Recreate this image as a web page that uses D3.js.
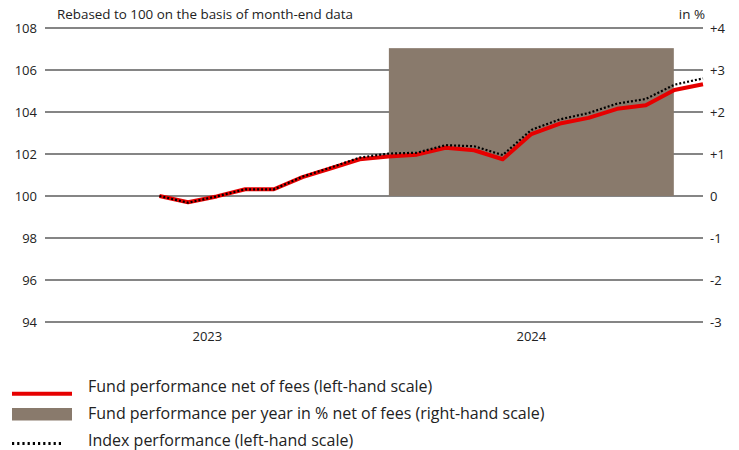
<!DOCTYPE html>
<html>
<head>
<meta charset="utf-8">
<script src="https://cdn.jsdelivr.net/npm/d3@7"></script>
<style>
  body { margin: 0; background: #fff; }
  svg text { font-family: "Open Sans", sans-serif; fill: #222; }
</style>
</head>
<body>
<div id="chart"></div>
<script>
// month-end points, May 2023 .. Dec 2024 (index 0..19)
const monthIdx = d3.range(0, 20);
const fundValues = [100.0, 99.70, 99.98, 100.32, 100.32, 100.90, 101.32, 101.75, 101.88, 101.97,
                    102.30, 102.18, 101.75, 102.95, 103.45, 103.72, 104.15, 104.32, 105.05, 105.32];
const indexValues = [100.0, 99.68, 99.98, 100.32, 100.32, 100.92, 101.36, 101.83, 102.02, 102.06,
                     102.42, 102.37, 101.95, 103.15, 103.65, 103.95, 104.40, 104.62, 105.30, 105.60];
const years = ["2023", "2024"];
const yearStart = [-4, 7];
const yearEnd = [7, 19];
const barYears = ["2024"];
const barValues = [3.52];
const leftTicks = [94, 96, 98, 100, 102, 104, 106, 108];
const rightTicks = [-3, -2, -1, 0, 1, 2, 3, 4];

const W = 739, H = 450;
const mLeft = 45, mRight = 703, mTop = 28, mBottom = 322;

const svg = d3.select("#chart").append("svg")
    .attr("width", W).attr("height", H);

const x = d3.scaleLinear().domain([-4, 19]).range([mLeft, mRight]);
const y = d3.scaleLinear().domain([94, 108]).range([mBottom, mTop]);
const y2 = d3.scaleLinear().domain([-3, 4]).range([mBottom, mTop]);

// grid
svg.append("g")
    .selectAll("line")
    .data(leftTicks)
    .enter().append("line")
    .attr("x1", mLeft).attr("x2", mRight)
    .attr("y1", d => y(d)).attr("y2", d => y(d))
    .attr("stroke", "#858585")
    .attr("stroke-width", 2);

// left axis labels
svg.append("g")
    .selectAll("text")
    .data(leftTicks)
    .enter().append("text")
    .attr("x", 37).attr("y", d => y(d))
    .attr("dy", "0.35em")
    .attr("text-anchor", "end")
    .attr("font-size", 13)
    .text(d => d);

// right axis labels
const fmtRight = d => d > 0 ? "+" + d : (d < 0 ? "-" + Math.abs(d) : "0");
svg.append("g")
    .selectAll("text")
    .data(rightTicks)
    .enter().append("text")
    .attr("x", 710).attr("y", d => y2(d))
    .attr("dy", "0.35em")
    .attr("font-size", 13)
    .text(fmtRight);

svg.append("text")
    .attr("x", 57).attr("y", 19)
    .attr("font-size", 13.4)
    .text("Rebased to 100 on the basis of month-end data");

svg.append("text")
    .attr("x", 705).attr("y", 19)
    .attr("text-anchor", "end")
    .attr("font-size", 13.4)
    .text("in %");

// year labels
const yearMid = years.map((d, i) => (yearStart[i] + yearEnd[i]) / 2);
svg.append("g")
    .selectAll("text")
    .data(years)
    .enter().append("text")
    .attr("x", (d, i) => x(yearMid[i]) + (i === 0 ? 5 : 0))
    .attr("y", 341)
    .attr("text-anchor", "middle")
    .attr("font-size", 13)
    .text(d => d);

// yearly performance bars
const barPad = 0.085;
const barX0 = d => { const k = years.indexOf(d); return yearStart[k] + (yearEnd[k] - yearStart[k]) * barPad; };
const barX1 = d => { const k = years.indexOf(d); return yearEnd[k] - (yearEnd[k] - yearStart[k]) * barPad; };
svg.append("g")
    .selectAll("rect")
    .data(barYears)
    .enter().append("rect")
    .attr("x", d => x(barX0(d)))
    .attr("width", d => x(barX1(d)) - x(barX0(d)))
    .attr("y", (d, i) => y2(barValues[i]))
    .attr("height", (d, i) => y2(0) - y2(barValues[i]))
    .attr("fill", "#897a6c");

const line = d3.line()
    .x((d, i) => x(monthIdx[i]))
    .y(d => y(d));

svg.append("path")
    .datum(fundValues)
    .attr("d", line)
    .attr("fill", "none")
    .attr("stroke", "#e60000")
    .attr("stroke-width", 4)
    .attr("stroke-linejoin", "round");

svg.append("path")
    .datum(indexValues)
    .attr("d", line)
    .attr("fill", "none")
    .attr("stroke", "#000")
    .attr("stroke-width", 2.2)
    .attr("stroke-dasharray", "2,2");

// legend
const lg = svg.append("g");
lg.append("line")
    .attr("x1", 12).attr("x2", 72).attr("y1", 393.7).attr("y2", 393.7)
    .attr("stroke", "#e60000").attr("stroke-width", 4);
lg.append("rect")
    .attr("x", 12).attr("y", 408).attr("width", 60).attr("height", 12.5)
    .attr("fill", "#897a6c");
lg.append("line")
    .attr("x1", 12).attr("x2", 64).attr("y1", 443.5).attr("y2", 443.5)
    .attr("stroke", "#000").attr("stroke-width", 3)
    .attr("stroke-dasharray", "2.2,3");

const legendText = ["Fund performance net of fees (left-hand scale)",
                    "Fund performance per year in % net of fees (right-hand scale)",
                    "Index performance (left-hand scale)"];
lg.selectAll("text.lt")
    .data(legendText)
    .enter().append("text")
    .attr("class", "lt")
    .attr("x", 88)
    .attr("y", (d, i) => 392 + i * 27)
    .attr("font-size", 16)
    .text(d => d);
</script>
</body>
</html>
